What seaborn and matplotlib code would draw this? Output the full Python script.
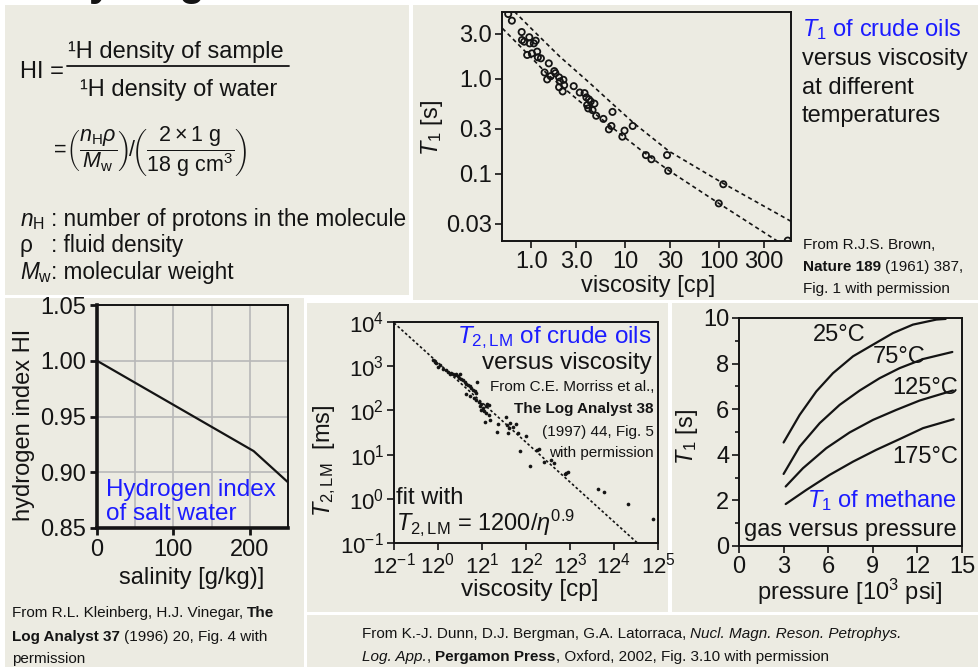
import numpy as np
import matplotlib
matplotlib.use("Agg")
import matplotlib.pyplot as plt
import seaborn as sns
from matplotlib import font_manager
from matplotlib.patches import Rectangle
from matplotlib.lines import Line2D
from matplotlib.ticker import FixedLocator, FixedFormatter, NullLocator

# ---------------- data ----------------
# Brown (1961): T1 of crude oils vs viscosity
brown_visc = [0.565, 0.618, 0.786, 0.792, 0.836, 0.948, 0.957, 1.06, 1.11, 0.90,
              1.01, 1.15, 1.17, 1.26, 1.38, 1.53, 1.47, 1.60, 1.75, 1.80,
              1.97, 2.01, 2.19, 2.23, 1.97, 2.15, 2.82, 3.27, 3.68, 3.85,
              4.10, 4.28, 4.69, 3.92, 4.03, 4.48, 4.90, 5.85, 7.31, 7.12,
              6.69, 9.82, 12.0, 9.31, 16.6, 19.0, 27.9, 28.7, 99.3, 111, 540]
brown_t1 = [4.83, 4.11, 3.12, 2.57, 2.47, 2.75, 2.37, 2.37, 2.53, 1.79,
            1.86, 1.94, 1.69, 1.65, 1.17, 1.46, 0.99, 1.07, 1.21, 1.15,
            1.04, 0.94, 0.98, 0.86, 0.82, 0.74, 0.84, 0.72, 0.71, 0.64,
            0.61, 0.58, 0.55, 0.53, 0.49, 0.47, 0.41, 0.38, 0.45, 0.32,
            0.295, 0.286, 0.32, 0.247, 0.158, 0.143, 0.158, 0.108, 0.049, 0.078, 0.0199]
upper_visc = [0.658, 1.074, 2.005, 4.093, 7.311, 12.50, 29.17, 111.4, 590]
upper_t1 = [5.12, 3.15, 1.72, 0.923, 0.547, 0.339, 0.174, 0.0794, 0.0316]
lower_visc = [0.49, 0.898, 1.469, 3.133, 6.699, 14.29, 28.64, 99.3, 424.6]
lower_t1 = [3.41, 1.862, 1.130, 0.601, 0.328, 0.182, 0.110, 0.0491, 0.0195]
brown_xticks = [1, 3, 10, 30, 100, 300]
brown_xlabels = ["1.0", "3.0", "10", "30", "100", "300"]
brown_yticks = [0.03, 0.1, 0.3, 1.0, 3.0]
brown_ylabels = ["0.03", "0.1", "0.3", "1.0", "3.0"]

# Kleinberg & Vinegar (1996): hydrogen index of brine
salinity = [0, 205, 250]
hydrogen_index = [1.000, 0.919, 0.891]
hi_yticks = [0.85, 0.90, 0.95, 1.00, 1.05]
hi_ylabels = ["0.85", "0.90", "0.95", "1.00", "1.05"]

# Morriss et al. (1997): T2,LM of crude oils vs viscosity
morriss_visc = [0.77, 0.84, 0.92, 1.0, 1.09, 1.30, 1.55, 1.69, 1.84, 2.01,
                2.19, 2.39, 2.61, 2.85, 3.00, 3.11, 3.39, 3.70, 4.04, 4.41,
                4.81, 5.25, 5.73, 6.24, 6.81, 7.43, 7.69, 4.41, 5.43, 6.47,
                7.43, 8.40, 8.85, 9.66, 10.5, 12.1, 13.2, 14.4, 9.66, 10.9,
                12.1, 11.5, 14.4, 14.9, 21.9, 23.1, 34.5, 37.0, 41.1, 42.6,
                39.0, 50.7, 60.3, 65.8, 74.3, 102, 125, 178, 197, 252,
                377, 426, 757, 826, 901, 4400, 5820, 20800, 76900]
morriss_t2 = [1360, 1245, 1180, 960, 1047, 880, 805, 740, 678, 702,
              655, 621, 678, 590, 551, 655, 522, 479, 439, 403,
              369, 351, 327, 294, 275, 248, 439, 231, 208, 194,
              175, 155, 124, 137, 115, 124, 137, 130, 100, 97,
              87, 55, 77, 62, 32, 50, 71, 46, 39, 52,
              31, 42, 48, 31, 11.9, 27, 5.6, 12.5, 13.6, 6.8,
              7.4, 6.5, 3.58, 3.84, 4.04, 1.69, 1.43, 0.75, 0.356]
FIT_A, FIT_B = 1200.0, 0.9          # T2,LM = 1200 / eta^0.9
t2_xticks = [1e-1, 1e0, 1e1, 1e2, 1e3, 1e4, 1e5]
t2_xlabels = [r"$12^{-1}$", r"$12^{0}$", r"$12^{1}$", r"$12^{2}$", r"$12^{3}$", r"$12^{4}$", r"$12^{5}$"]
t2_yticks = [1e-1, 1e0, 1e1, 1e2, 1e3, 1e4]
t2_ylabels = [r"$10^{-1}$", r"$10^{0}$", r"$10^{1}$", r"$10^{2}$", r"$10^{3}$", r"$10^{4}$"]

# T1 of methane gas vs pressure (10^3 psi)
methane_labels = ["25°C", "75°C", "125°C", "175°C"]
p_25 = [3.0, 4.08, 5.2, 6.32, 7.67, 9.01, 10.36, 11.7, 13.27, 13.9]
t1_25 = [4.54, 5.75, 6.78, 7.58, 8.32, 8.83, 9.34, 9.71, 9.93, 9.96]
p_75 = [3.0, 4.08, 5.43, 6.77, 8.12, 9.46, 10.8, 12.38, 14.35]
t1_75 = [3.16, 4.36, 5.39, 6.19, 6.82, 7.36, 7.80, 8.20, 8.51]
p_125 = [3.14, 4.3, 5.87, 7.44, 9.01, 10.58, 12.15, 14.39]
t1_125 = [2.61, 3.41, 4.29, 4.98, 5.53, 5.97, 6.38, 6.82]
p_175 = [3.14, 4.53, 6.10, 7.67, 9.24, 10.81, 12.38, 14.44]
t1_175 = [1.84, 2.46, 3.12, 3.70, 4.22, 4.69, 5.17, 5.56]
methane_xticks = [0, 3, 6, 9, 12, 15]
methane_yticks = [0, 2, 4, 6, 8, 10]

# ---------------- style ----------------
sns.set_theme(style="ticks")
INK = "#141414"
BLUE = "#1C1CFF"
BEIGE = "#ECEBE2"
plt.rcParams.update({
    "mathtext.fontset": "custom",
    "mathtext.rm": "Liberation Sans",
    "mathtext.it": "Liberation Sans:italic",
    "mathtext.bf": "Liberation Sans:bold",
    "text.color": INK,
    "axes.labelcolor": INK,
})
plt.rcParams["font.family"] = ["Liberation Sans", "DejaVu Sans"]

installed = {f.name for f in font_manager.fontManager.ttflist}
NARROW = "Liberation Sans Narrow" if "Liberation Sans Narrow" in installed else "Liberation Sans"
CREDIT = 13 if NARROW == "Liberation Sans Narrow" else 11

W, H = 979, 667
fig = plt.figure(figsize=(W / 100, H / 100), dpi=100)
fig.patch.set_facecolor("white")


def fx(x):
    return x / W


def fy(y):
    return 1 - y / H


# beige panels separated by thin white gaps (kept beneath the axes)
for x0, y0, x1, y1 in [(5, 5, 409, 295), (413, 5, 979, 300), (5, 298, 304, 667),
                       (307, 303, 668, 612), (672, 303, 979, 612), (307, 615, 979, 667)]:
    fig.patches.append(Rectangle((fx(x0), fy(y1)), (x1 - x0) / W, (y1 - y0) / H,
                                 transform=fig.transFigure, facecolor=BEIGE,
                                 edgecolor="none", zorder=-5))


def put(x, y, s, size, color=INK, ha="left", va="baseline", **kw):
    return fig.text(fx(x), fy(y), s, fontsize=size, color=color, ha=ha, va=va, **kw)


renderer = fig.canvas.get_renderer()


def rich(x, y, pieces, size=CREDIT, family=NARROW, ha="left"):
    """Draw one line made of differently styled runs (text, weight, style, gap_before)."""
    def width(s, **kw):
        t = fig.text(0, 0, s, fontsize=size, family=family, **kw)
        w = t.get_window_extent(renderer).width
        t.remove()
        return w
    space = width("x x") - width("xx")
    widths = [width(s, weight=w, style=st) for s, w, st, _ in pieces]
    gaps = [space if g else 0 for _, _, _, g in pieces]
    total = sum(widths) + sum(gaps[1:])
    cx = x - total if ha == "right" else x
    for i, ((s, w, st, _), wd) in enumerate(zip(pieces, widths)):
        if i > 0:
            cx += gaps[i]
        fig.text(fx(cx), fy(y), s, fontsize=size, family=family, weight=w, style=st,
                 color=INK, ha="left", va="baseline")
        cx += wd


def add_ax(l, t, r, b):
    ax = fig.add_axes([l / W, 1 - b / H, (r - l) / W, (b - t) / H])
    ax.set_facecolor(BEIGE)
    for s in ax.spines.values():
        s.set_color(INK)
        s.set_linewidth(1.4)
        s.set_visible(True)
    ax.tick_params(which="both", direction="out", color=INK, labelcolor=INK, width=1.2)
    return ax


# heading (cut at the top edge)
put(59, -5, "Hydrogen index", 30, weight="bold")

# ---------------- panel 1: definition of HI ----------------
put(20, 78, "HI =", 17)
put(68, 58, "¹H density of sample", 17)
fig.add_artist(Line2D([fx(67), fx(289)], [fy(66), fy(66)], color=INK, lw=1.3,
                      transform=fig.transFigure))
put(80, 96, "¹H density of water", 17)
put(50, 152, r"$=\!\left(\dfrac{n_{\mathrm{H}}\rho}{M_{\mathrm{w}}}\right)\!/\!"
             r"\left(\dfrac{2\times1\ \mathrm{g}}{18\ \mathrm{g\ cm}^{3}}\right)$",
    15.5, va="center")
put(20, 226, r"$n_{\mathrm{H}}$", 16.3)
put(20, 252, "ρ", 16.3)
put(20, 279, r"$M_{\mathrm{w}}$", 16.3)
put(51, 226, ": number of protons in the molecule", 16.3)
put(51, 252, ": fluid density", 16.3)
put(51, 279, ": molecular weight", 16.3)

# ---------------- panel 2: Brown T1 vs viscosity ----------------
ax2 = add_ax(502, 12, 791, 241)
ax2.set_xscale("log")
ax2.set_yscale("log")
sns.lineplot(x=upper_visc, y=upper_t1, ax=ax2, color=INK, lw=1.2,
             linestyle=(0, (2.5, 2)), sort=False, estimator=None)
sns.lineplot(x=lower_visc, y=lower_t1, ax=ax2, color=INK, lw=1.2,
             linestyle=(0, (2.5, 2)), sort=False, estimator=None)
sns.scatterplot(x=brown_visc, y=brown_t1, ax=ax2, s=20, linewidth=1.3, zorder=3)
ax2.collections[-1].set_facecolor("none")
ax2.collections[-1].set_edgecolor(INK)
ax2.set_xlim(0.485, 585)
ax2.set_ylim(0.0197, 5.07)
ax2.xaxis.set_major_locator(FixedLocator(brown_xticks))
ax2.xaxis.set_major_formatter(FixedFormatter(brown_xlabels))
ax2.yaxis.set_major_locator(FixedLocator(brown_yticks))
ax2.yaxis.set_major_formatter(FixedFormatter(brown_ylabels))
ax2.xaxis.set_minor_locator(NullLocator())
ax2.yaxis.set_minor_locator(NullLocator())
ax2.tick_params(labelsize=17, length=5, pad=2)
ax2.set_xlabel("")
ax2.set_ylabel("")
put(432, 128, r"$T_1$ [s]", 17, ha="center", va="center", rotation=90)
put(648, 286, "viscosity [cp]", 17, ha="center", va="center")
put(802, 36, r"$T_1$ of crude oils", 17, color=BLUE)
put(802, 65, "versus viscosity", 17)
put(802, 94, "at different", 17)
put(802, 122, "temperatures", 17)
rich(803, 249, [("From R.J.S. Brown,", "normal", "normal", False)])
rich(803, 271, [("Nature 189", "bold", "normal", False),
                ("(1961) 387,", "normal", "normal", True)])
rich(803, 293, [("Fig. 1 with permission", "normal", "normal", False)])

# ---------------- panel 3: hydrogen index of salt water ----------------
ax3 = add_ax(97, 305, 288, 528)
sns.lineplot(x=salinity, y=hydrogen_index, ax=ax3, color=INK, lw=1.6)
ax3.set_xlim(0, 250)
ax3.set_ylim(0.85, 1.05)
ax3.xaxis.set_major_locator(FixedLocator([0, 100, 200]))
ax3.xaxis.set_minor_locator(FixedLocator([50, 150, 250]))
ax3.yaxis.set_major_locator(FixedLocator(hi_yticks))
ax3.yaxis.set_major_formatter(FixedFormatter(hi_ylabels))
ax3.grid(True, which="both", color="#B8B8B8", lw=1.2)
ax3.set_axisbelow(True)
ax3.tick_params(which="major", labelsize=17, length=5, width=2, pad=3)
ax3.tick_params(which="minor", length=0)
ax3.spines["left"].set_linewidth(2.6)
ax3.spines["bottom"].set_linewidth(2.6)
ax3.set_xlabel("")
ax3.set_ylabel("")
put(24, 425, "hydrogen index HI", 17, ha="center", va="center", rotation=90)
put(192, 578, "salinity [g/kg)]", 17, ha="center", va="center")
put(106, 496, "Hydrogen index", 17.5, color=BLUE)
put(106, 520, "of salt water", 17.5, color=BLUE)
rich(12, 617, [("From R.L. Kleinberg, H.J. Vinegar,", "normal", "normal", False),
               ("The", "bold", "normal", True)])
rich(12, 641, [("Log Analyst 37", "bold", "normal", False),
               ("(1996) 20, Fig. 4 with", "normal", "normal", True)])
rich(12, 663, [("permission", "normal", "normal", False)])

# ---------------- panel 4: T2,LM of crude oils ----------------
ax4 = add_ax(394, 322, 658, 543)
ax4.set_xscale("log")
ax4.set_yscale("log")
visc_fit = np.logspace(-1, 5, 60)
sns.lineplot(x=visc_fit, y=FIT_A / visc_fit ** FIT_B, ax=ax4, color=INK, lw=1.2,
             linestyle=(0, (1.6, 1.4)), estimator=None)
sns.scatterplot(x=morriss_visc, y=morriss_t2, ax=ax4, s=7, color=INK, linewidth=0, zorder=3)
ax4.set_xlim(1e-1, 1e5)
ax4.set_ylim(1e-1, 1e4)
ax4.xaxis.set_major_locator(FixedLocator(t2_xticks))
ax4.xaxis.set_major_formatter(FixedFormatter(t2_xlabels))
ax4.yaxis.set_major_locator(FixedLocator(t2_yticks))
ax4.yaxis.set_major_formatter(FixedFormatter(t2_ylabels))
ax4.xaxis.set_minor_locator(NullLocator())
ax4.yaxis.set_minor_locator(NullLocator())
ax4.tick_params(labelsize=16, length=5, pad=2)
ax4.set_xlabel("")
ax4.set_ylabel("")
put(325, 461, r"$T_{2,\mathrm{LM}}$  [ms]", 17, ha="center", va="center", rotation=90)
put(530, 590, "viscosity [cp]", 17.5, ha="center", va="center")
put(652, 343, r"$T_{2,\mathrm{LM}}$ of crude oils", 17.5, color=BLUE, ha="right")
put(652, 369, "versus viscosity", 17.5, ha="right")
rich(654, 391, [("From C.E. Morriss et al.,", "normal", "normal", False)], ha="right")
rich(654, 413, [("The Log Analyst 38", "bold", "normal", False)], ha="right")
rich(654, 436, [("(1997) 44, Fig. 5", "normal", "normal", False)], ha="right")
rich(654, 457, [("with permission", "normal", "normal", False)], ha="right")
put(396, 504, "fit with", 17)
put(396, 530, r"$T_{2,\mathrm{LM}}$ = 1200/$\eta^{0.9}$", 17)

# ---------------- panel 5: T1 of methane ----------------
ax5 = add_ax(739, 318, 962, 546)
for px, ty in [(p_25, t1_25), (p_75, t1_75), (p_125, t1_125), (p_175, t1_175)]:
    sns.lineplot(x=px, y=ty, ax=ax5, color=INK, lw=1.6, sort=False, estimator=None)
ax5.set_xlim(0, 15)
ax5.set_ylim(0, 10)
ax5.xaxis.set_major_locator(FixedLocator(methane_xticks))
ax5.yaxis.set_major_locator(FixedLocator(methane_yticks))
ax5.yaxis.set_minor_locator(FixedLocator([1, 3, 5, 7, 9]))
ax5.tick_params(which="major", labelsize=17, length=5, pad=2)
ax5.tick_params(which="minor", length=3)
ax5.set_xlabel("")
ax5.set_ylabel("")
put(687, 437, r"$T_1$ [s]", 17, ha="center", va="center", rotation=90)
put(850, 592, r"pressure [10$^3$ psi]", 17, ha="center", va="center")
for (lx, ly), lab in zip([(813, 341), (873, 363), (892, 394), (892, 463)], methane_labels):
    put(lx, ly, lab, 17)
put(957, 507, r"$T_1$ of methane", 17, color=BLUE, ha="right")
put(957, 536, "gas versus pressure", 17, ha="right")

# ---------------- book credit ----------------
rich(362, 638, [("From K.-J. Dunn, D.J. Bergman, G.A. Latorraca,", "normal", "normal", False),
                ("Nucl. Magn. Reson. Petrophys.", "normal", "italic", True)])
rich(362, 661, [("Log. App.", "normal", "italic", False),
                (",", "normal", "normal", False),
                ("Pergamon Press", "bold", "normal", True),
                (", Oxford, 2002, Fig. 3.10 with permission", "normal", "normal", False)])

fig.savefig("out.png", dpi=100, facecolor=fig.get_facecolor())
